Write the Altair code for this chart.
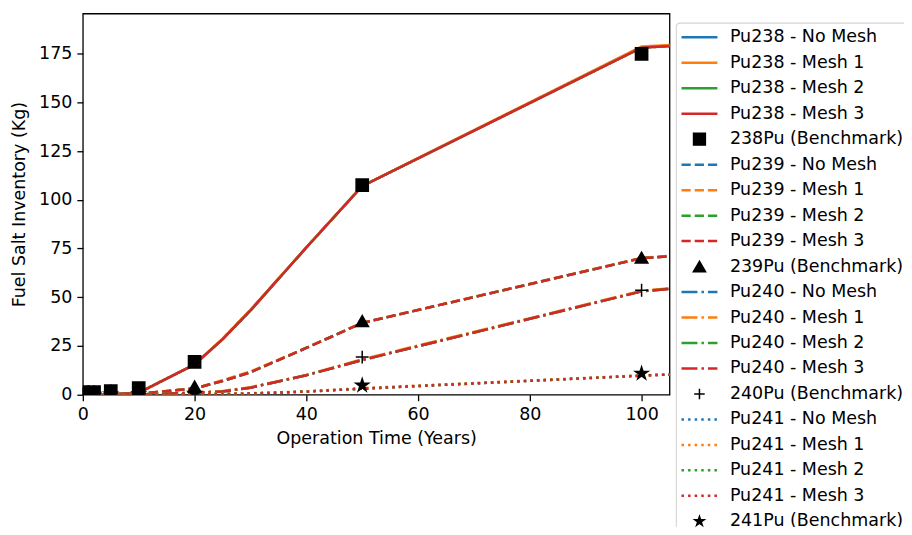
import altair as alt
import pandas as pd

# ---------------- data ----------------
years = [0, 2, 5, 10, 20, 25, 30, 40, 50, 100, 150]
meshes = ["No Mesh", "Mesh 1", "Mesh 2", "Mesh 3"]
mesh_colors = ["#1f77b4", "#ff7f0e", "#2ca02c", "#d62728"]

pu238 = {
    "No Mesh": [0, 0.05, 0.2, 1.0, 15.5, 28.4, 43.2, 75.5, 107.0, 178.2, 186.2],
    "Mesh 1":  [0, 0.05, 0.2, 1.0, 15.6, 28.8, 43.6, 75.6, 107.1, 178.6, 186.3],
    "Mesh 2":  [0, 0.05, 0.2, 1.0, 15.5, 28.4, 43.2, 75.5, 107.0, 178.0, 186.1],
    "Mesh 3":  [0, 0.05, 0.2, 1.0, 15.5, 28.4, 43.2, 75.5, 107.0, 178.0, 186.0],
}
pu239 = {
    "No Mesh": [0, 0.02, 0.1, 0.5, 3.2, 7.0, 11.5, 24.0, 36.8, 70.1, 80.1],
    "Mesh 1":  [0, 0.02, 0.1, 0.5, 3.3, 7.4, 11.9, 24.1, 36.9, 70.2, 80.2],
    "Mesh 2":  [0, 0.02, 0.1, 0.5, 3.2, 7.0, 11.5, 24.0, 36.8, 70.0, 80.0],
    "Mesh 3":  [0, 0.02, 0.1, 0.5, 3.2, 7.0, 11.5, 24.0, 36.8, 70.0, 80.0],
}
pu240 = {
    "No Mesh": [0, 0.0, 0.02, 0.1, 1.0, 1.6, 3.6, 10.0, 17.8, 53.1, 66.1],
    "Mesh 1":  [0, 0.0, 0.02, 0.1, 1.1, 1.9, 3.9, 10.1, 18.2, 53.3, 66.2],
    "Mesh 2":  [0, 0.0, 0.02, 0.1, 1.0, 1.6, 3.6, 10.0, 17.8, 53.0, 66.0],
    "Mesh 3":  [0, 0.0, 0.02, 0.1, 1.0, 1.6, 3.6, 10.0, 17.8, 53.0, 66.0],
}
pu241 = {
    "No Mesh": [0, 0.0, 0.0, 0.02, 0.2, 0.35, 0.6, 1.6, 3.1, 9.8, 15.0],
    "Mesh 1":  [0, 0.0, 0.0, 0.02, 0.3, 0.5, 0.8, 1.7, 3.4, 9.9, 15.1],
    "Mesh 2":  [0, 0.0, 0.0, 0.02, 0.2, 0.35, 0.6, 1.6, 3.1, 9.8, 15.0],
    "Mesh 3":  [0, 0.0, 0.0, 0.02, 0.2, 0.35, 0.6, 1.6, 3.1, 9.8, 15.0],
}

bench_years = [0, 2, 5, 10, 20, 50, 100]
bench_238 = [1.3, 1.4, 1.8, 3.4, 16.8, 107.5, 174.8]
bench_239 = [0.1, 0.3, 0.6, 1.2, 4.2, 37.8, 70.3]
bench_240 = [0.3, 1.6, 2.0, 0.6, 1.4, 19.3, 53.6]
bench_241 = [0.0, 0.1, 0.2, 0.3, 0.6, 4.8, 10.9]

isotopes = ["Pu238", "Pu239", "Pu240", "Pu241"]
iso_data = [pu238, pu239, pu240, pu241]
bench_labels = ["238Pu (Benchmark)", "239Pu (Benchmark)", "240Pu (Benchmark)", "241Pu (Benchmark)"]
bench_data = [bench_238, bench_239, bench_240, bench_241]

# style (matplotlib-like)
dash_styles = [[1, 0], [9.25, 4], [16, 4, 2.5, 4], [2.5, 4.1]]
STAR = ("M0,-1L0.225,-0.309L0.951,-0.309L0.363,0.118L0.588,0.809L0,0.382"
        "L-0.588,0.809L-0.363,0.118L-0.951,-0.309L-0.225,-0.309Z")
PLUS = "M-1,0H1M0,-1V1"
bench_shapes = ["square", "triangle-up", PLUS, STAR]
bench_sizes_plot = [150, 175, 170, 105]
bench_sizes_legend = [140, 150, 110, 95]

FONT = "DejaVu Sans"
FS = 17.5

# ---------------- tables ----------------
line_rows = []
series_names, series_colors, series_dash = [], [], []
for iso, d, dash in zip(isotopes, iso_data, dash_styles):
    for m, c in zip(meshes, mesh_colors):
        name = f"{iso} - {m}"
        series_names.append(name)
        series_colors.append(c)
        series_dash.append(dash)
        for t, v in zip(years, d[m]):
            line_rows.append({"series": name, "year": t, "value": v})
lines_df = pd.DataFrame(line_rows)

bench_rows = []
for lab, vals in zip(bench_labels, bench_data):
    for t, v in zip(bench_years, vals):
        bench_rows.append({"bench": lab, "year": t, "value": v})
bench_df = pd.DataFrame(bench_rows)

# legend entries (matplotlib order)
leg_rows = []
i = 0
for k, iso in enumerate(isotopes):
    for m, c in zip(meshes, mesh_colors):
        leg_rows.append({"idx": i, "label": f"{iso} - {m}", "kind": "line",
                         "color": c, "dash": dash_styles[k], "shape": "", "size": 0})
        i += 1
    leg_rows.append({"idx": i, "label": bench_labels[k], "kind": "marker",
                     "color": "black", "dash": [1, 0], "shape": bench_shapes[k],
                     "size": bench_sizes_legend[k]})
    i += 1
leg_df = pd.DataFrame(leg_rows)
frame_df = pd.DataFrame({"top": [-0.56], "bottom": [21.0]})

# ---------------- main plot ----------------
xscale = alt.Scale(domain=[0, 105], nice=False, zero=False)
yscale = alt.Scale(domain=[0, 195.5], nice=False, zero=False)

xaxis = alt.Axis(values=[0, 20, 40, 60, 80, 100], title="Operation Time (Years)",
                 grid=False, domain=False, tickSize=6, tickWidth=1.3, tickColor="black",
                 labelFont=FONT, labelFontSize=FS, labelColor="black", labelPadding=5,
                 titleFont=FONT, titleFontSize=FS, titleFontWeight="normal",
                 titleColor="black", titlePadding=6, labelFlush=False)
yaxis = alt.Axis(values=[0, 25, 50, 75, 100, 125, 150, 175], title="Fuel Salt Inventory (Kg)",
                 grid=False, domain=False, tickSize=6, tickWidth=1.3, tickColor="black",
                 labelFont=FONT, labelFontSize=FS, labelColor="black", labelPadding=5,
                 titleFont=FONT, titleFontSize=FS, titleFontWeight="normal",
                 titleColor="black", titlePadding=10, labelFlush=False)

lines = alt.Chart(lines_df).mark_line(strokeWidth=2.5, clip=True, strokeCap="butt").encode(
    x=alt.X("year:Q", scale=xscale, axis=xaxis),
    y=alt.Y("value:Q", scale=yscale, axis=yaxis),
    stroke=alt.Stroke("series:N", scale=alt.Scale(domain=series_names, range=series_colors), legend=None),
    strokeDash=alt.StrokeDash("series:N", scale=alt.Scale(domain=series_names, range=series_dash), legend=None),
    order=alt.Order("year:Q"),
)

points = alt.Chart(bench_df).mark_point(filled=True, fill="black", stroke="black",
                                        strokeWidth=1.5, opacity=1, clip=True).encode(
    x=alt.X("year:Q", scale=xscale),
    y=alt.Y("value:Q", scale=yscale),
    shape=alt.Shape("bench:N", scale=alt.Scale(domain=bench_labels, range=bench_shapes), legend=None),
    size=alt.Size("bench:N", scale=alt.Scale(domain=bench_labels, range=bench_sizes_plot), legend=None),
)

main = alt.layer(lines, points).properties(
    width=588, height=382,
    view=alt.ViewBackground(stroke="black", strokeWidth=1.3, fill="white"),
)

# ---------------- legend panel ----------------
ly = alt.Scale(domain=[-0.932, 19.22], reverse=True, nice=False, zero=False)
frame = alt.Chart(frame_df).mark_rect(
    fill="white", stroke="#d3d3d3", strokeWidth=1.3, cornerRadius=4, clip=True).encode(
    x=alt.value(0.7), x2=alt.value(300),
    y=alt.Y("top:Q", scale=ly, axis=None), y2="bottom:Q",
)
leg_base = alt.Chart(leg_df)
leg_lines = leg_base.transform_filter(alt.datum.kind == "line").mark_rule(
    strokeWidth=2.5, strokeCap="butt").encode(
    x=alt.value(6), x2=alt.value(42),
    y=alt.Y("idx:Q", scale=ly, axis=None),
    stroke=alt.Stroke("color:N", scale=None),
    strokeDash=alt.StrokeDash("dash", scale=None),
)
leg_marks = leg_base.transform_filter(alt.datum.kind == "marker").mark_point(
    filled=True, fill="black", stroke="black", strokeWidth=1.5, opacity=1).encode(
    x=alt.value(24),
    y=alt.Y("idx:Q", scale=ly, axis=None),
    shape=alt.Shape("shape:N", scale=None),
    size=alt.Size("size:Q", scale=None),
)
leg_text = leg_base.mark_text(align="left", baseline="middle", font=FONT,
                              fontSize=FS, color="black", clip=True).encode(
    x=alt.value(54.5),
    y=alt.Y("idx:Q", scale=ly, axis=None),
    text="label:N",
)
legend = alt.layer(frame, leg_lines, leg_marks, leg_text).properties(
    width=229, height=514.5,
    view=alt.ViewBackground(stroke="transparent", strokeWidth=0),
)

chart = alt.hconcat(main, legend, spacing=5).resolve_scale(
    x="independent", y="independent", stroke="independent",
    strokeDash="independent", shape="independent", size="independent",
).properties(
    padding={"left": 1, "top": 4, "right": 0, "bottom": 0},
    background="white",
)

chart.save("out.html", embed_options={"renderer": "svg", "actions": False})
